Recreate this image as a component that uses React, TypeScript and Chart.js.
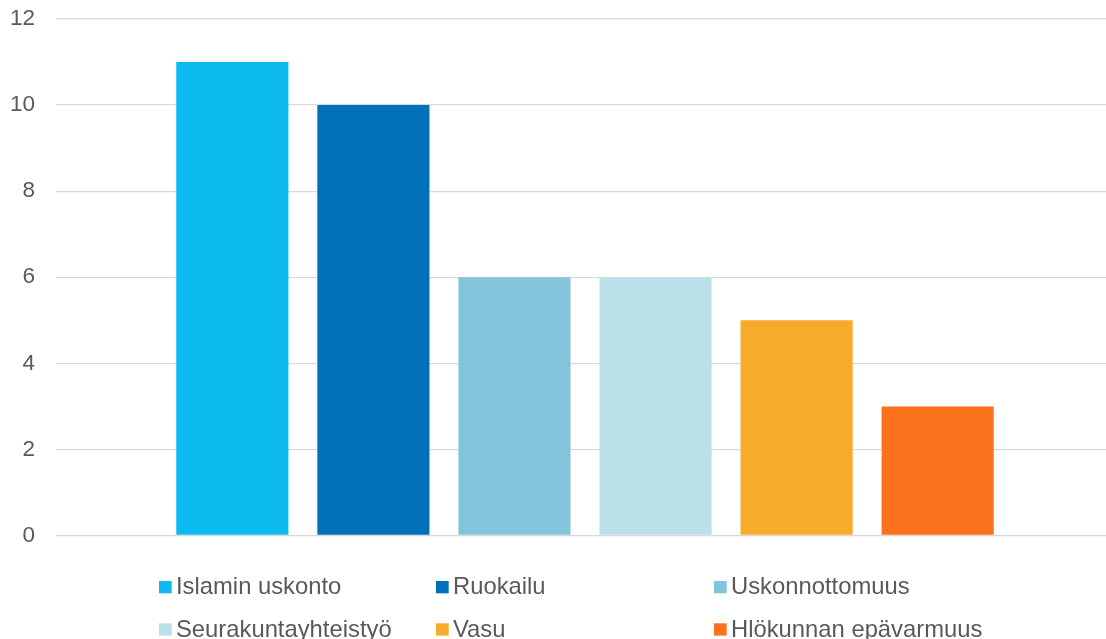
import React, { useEffect, useRef } from "react";
import { Chart, registerables } from "chart.js";

Chart.register(...registerables);

const categories = [""];
const seriesNames = [
  "Islamin uskonto",
  "Ruokailu",
  "Uskonnottomuus",
  "Seurakuntayhteistyö",
  "Vasu",
  "Hlökunnan epävarmuus",
];
const seriesValues = [11, 10, 6, 6, 5, 3];
const seriesColors = ["#0BBBEF", "#0070BA", "#83C4DC", "#BAE0EA", "#F6AB2B", "#FC711E"];
const yTicks = [0, 2, 4, 6, 8, 10, 12];

const FONT = "'Liberation Sans', Arial, sans-serif";
const TEXT = "#595959";

const legendPlugin = {
  id: "gridLegend",
  afterDraw(chart: any) {
    const ctx = chart.ctx;
    const colX = [159, 436, 714];
    const rowBase = [594.3, 636.6];
    ctx.save();
    ctx.font = `23.8px ${FONT}`;
    ctx.textAlign = "left";
    ctx.textBaseline = "alphabetic";
    chart.data.datasets.forEach((ds: any, i: number) => {
      const col = i % 3;
      const row = Math.floor(i / 3);
      const x = colX[col];
      const base = rowBase[row];
      ctx.fillStyle = ds.backgroundColor;
      ctx.fillRect(x, base - 13.3, 12.7, 12.3);
      ctx.fillStyle = TEXT;
      ctx.fillText(ds.label, x + 17, base);
    });
    ctx.restore();
  },
};

export default function App() {
  const ref = useRef<HTMLCanvasElement>(null);
  useEffect(() => {
    if (!ref.current) return;
    const chart = new Chart(ref.current, {
      type: "bar",
      data: {
        labels: categories,
        datasets: seriesNames.map((name, i) => ({
          label: name,
          data: [seriesValues[i]],
          backgroundColor: seriesColors[i],
          borderWidth: 0,
          barPercentage: 0.795,
          categoryPercentage: 0.8,
        })),
      },
      options: {
        responsive: false,
        animation: false,
        layout: { padding: { top: 19, right: 0, bottom: 103.5, left: 0 } },
        plugins: {
          legend: { display: false },
          tooltip: { enabled: false },
        },
        scales: {
          x: { display: false },
          y: {
            min: 0,
            max: 12,
            afterBuildTicks: (s: any) => {
              s.ticks = yTicks.map((v) => ({ value: v }));
            },
            afterFit: (s: any) => {
              s.width = 56;
              s.paddingTop = 0;
              s.paddingBottom = 0;
            },
            border: { display: false },
            grid: { color: "#D9D9D9", lineWidth: 1.3, drawTicks: false },
            ticks: {
              padding: 21,
              color: TEXT,
              font: { family: FONT, size: 22.5 },
            },
          },
        },
      },
      plugins: [legendPlugin],
    });
    return () => chart.destroy();
  }, []);
  return (
    <div style={{ position: "absolute", left: 0, top: 0, width: 1106, height: 639, background: "#fff", overflow: "hidden" }}>
      <canvas ref={ref} width={1114} height={639} style={{ display: "block" }} />
    </div>
  );
}
